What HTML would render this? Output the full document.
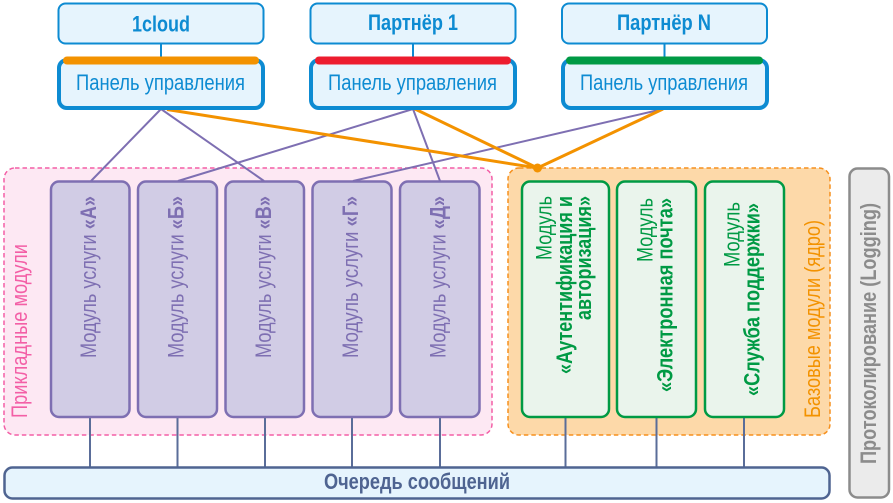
<!DOCTYPE html>
<html><head><meta charset="utf-8"><style>
html,body{margin:0;padding:0;background:#fff}
svg{display:block}
text{font-family:"Liberation Sans",sans-serif;font-size:22px}
.b{font-weight:bold}
</style></head><body>
<svg width="893" height="503" viewBox="0 0 893 503" xmlns="http://www.w3.org/2000/svg">
<rect x="4" y="168" width="488" height="267" rx="11" fill="#fde8f3" stroke="#f35fa6" stroke-width="1.5" stroke-dasharray="4.5 3"/>
<rect x="508" y="168" width="322" height="267" rx="11" fill="#fdd9a9" stroke="#f6901e" stroke-width="1.5" stroke-dasharray="4.5 3"/>
<rect x="849.500" y="168.500" width="39.500" height="329" rx="8" fill="#ebebeb" stroke="#8c8c8c" stroke-width="2.500"/>

<g stroke="#5a6d99" stroke-width="2">
<path d="M90 417V467M177.500 417V467M265 417V467M352 417V467M440 417V467M565.500 417V467M656.500 417V467M744 417V467"/>
</g>
<g stroke="#0d8bd2" stroke-width="2"><path d="M161 43V59M413 43V59M664.500 43V59"/></g>

<g stroke="#7e6fb2" stroke-width="2" fill="none">
<path d="M161 109L91 181M161 109L264 181M413 109L178 181M413 109L440 181M663 109L353 181"/>
</g>
<g stroke="#f39200" stroke-width="3" fill="none">
<path d="M167 109.500L537.500 168M415 109L537.500 168M663 109L537.500 168"/>
</g>
<circle cx="537.500" cy="168" r="4.500" fill="#f39200"/>

<g fill="#e6f4fd" stroke="#0d8bd2" stroke-width="2">
<rect x="58.500" y="3.500" width="205" height="40" rx="7"/>
<rect x="310.500" y="3.500" width="205" height="40" rx="7"/>
<rect x="562" y="3.500" width="205" height="40" rx="7"/>
</g>
<g fill="#e6f4fd" stroke="#0d8bd2" stroke-width="4">
<rect x="59" y="60" width="204" height="48" rx="8"/>
<rect x="311" y="60" width="204" height="48" rx="8"/>
<rect x="563" y="60" width="204" height="48" rx="8"/>
</g>
<rect x="63" y="56.500" width="196" height="8" rx="4" fill="#f39200"/>
<rect x="315" y="56.500" width="196" height="8" rx="4" fill="#ed1c2e"/>
<rect x="566" y="56.500" width="197" height="8" rx="4" fill="#009a44"/>

<g fill="#0d8bd2">
<text class="b" x="132" y="31.500" textLength="58" lengthAdjust="spacingAndGlyphs">1cloud</text>
<text class="b" x="368" y="30" textLength="90" lengthAdjust="spacingAndGlyphs">Партнёр 1</text>
<text class="b" x="617" y="30" textLength="94" lengthAdjust="spacingAndGlyphs">Партнёр N</text>
<text x="76" y="90" textLength="169" lengthAdjust="spacingAndGlyphs">Панель управления</text>
<text x="328" y="90" textLength="169" lengthAdjust="spacingAndGlyphs">Панель управления</text>
<text x="580" y="90" textLength="168" lengthAdjust="spacingAndGlyphs">Панель управления</text>
</g>

<g fill="#d1cce5" stroke="#7e6fb2" stroke-width="2.500">
<rect x="51" y="181.500" width="78.500" height="235.500" rx="8"/>
<rect x="138" y="181.500" width="79" height="235.500" rx="8"/>
<rect x="225.500" y="181.500" width="78.500" height="235.500" rx="8"/>
<rect x="312.500" y="181.500" width="79" height="235.500" rx="8"/>
<rect x="400" y="181.500" width="79.500" height="235.500" rx="8"/>
</g>
<g fill="#eaf4ec" stroke="#009a44" stroke-width="2.500">
<rect x="522" y="181.500" width="87" height="235.500" rx="8"/>
<rect x="617" y="181.500" width="79" height="235.500" rx="8"/>
<rect x="705" y="181.500" width="79" height="235.500" rx="8"/>
</g>
<rect x="4.500" y="467.500" width="825" height="31" rx="8" fill="#e6f4fd" stroke="#4f6491" stroke-width="2.500"/>
<text class="b" x="324" y="489" fill="#4f6491" textLength="186" lengthAdjust="spacingAndGlyphs">Очередь сообщений</text>

<g fill="#7e6fb2">
<text transform="translate(96 358) rotate(-90)" textLength="162" lengthAdjust="spacingAndGlyphs">Модуль услуги <tspan class="b">«А»</tspan></text>
<text transform="translate(183.500 358) rotate(-90)" textLength="162" lengthAdjust="spacingAndGlyphs">Модуль услуги <tspan class="b">«Б»</tspan></text>
<text transform="translate(271 358) rotate(-90)" textLength="162" lengthAdjust="spacingAndGlyphs">Модуль услуги <tspan class="b">«В»</tspan></text>
<text transform="translate(358 358) rotate(-90)" textLength="162" lengthAdjust="spacingAndGlyphs">Модуль услуги <tspan class="b">«Г»</tspan></text>
<text transform="translate(445.500 358) rotate(-90)" textLength="162" lengthAdjust="spacingAndGlyphs">Модуль услуги <tspan class="b">«Д»</tspan></text>
</g>
<g fill="#009a44">
<text transform="translate(551.500 260) rotate(-90)" textLength="64" lengthAdjust="spacingAndGlyphs">Модуль</text>
<text class="b" transform="translate(572 374) rotate(-90)" textLength="178" lengthAdjust="spacingAndGlyphs">«Аутентификация и</text>
<text class="b" transform="translate(591 320) rotate(-90)" textLength="124" lengthAdjust="spacingAndGlyphs">авторизация»</text>
<text transform="translate(652.500 262) rotate(-90)" textLength="64" lengthAdjust="spacingAndGlyphs">Модуль</text>
<text class="b" transform="translate(672.500 392) rotate(-90)" textLength="194" lengthAdjust="spacingAndGlyphs">«Электронная почта»</text>
<text transform="translate(739.500 267) rotate(-90)" textLength="65" lengthAdjust="spacingAndGlyphs">Модуль</text>
<text class="b" transform="translate(759.500 396) rotate(-90)" textLength="193" lengthAdjust="spacingAndGlyphs">«Служба поддержки»</text>
</g>
<text transform="translate(27 418) rotate(-90)" fill="#f35fa6" textLength="174" lengthAdjust="spacingAndGlyphs">Прикладные модули</text>
<text transform="translate(820 418) rotate(-90)" fill="#f39200" textLength="198" lengthAdjust="spacingAndGlyphs">Базовые модули (ядро)</text>
<text class="b" transform="translate(876 464) rotate(-90)" fill="#8c8c8c" textLength="261" lengthAdjust="spacingAndGlyphs">Протоколирование (Logging)</text>
</svg>
</body></html>
